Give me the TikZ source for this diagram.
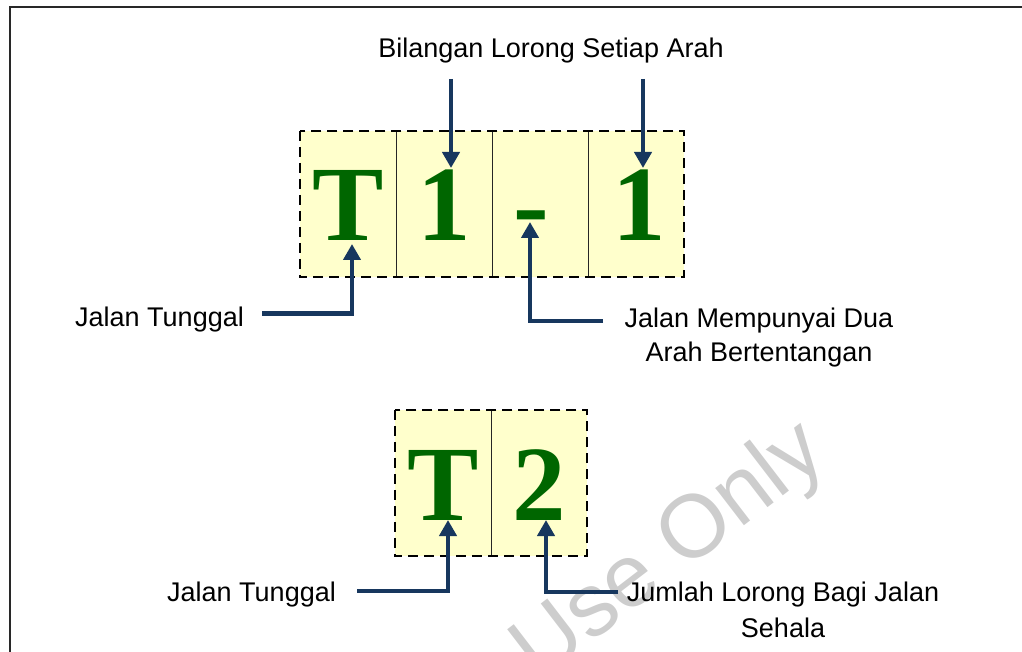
\documentclass[tikz,border=0pt]{standalone}
\usepackage{fontspec}
\setmainfont{Liberation Sans}
\newfontfamily\bigserif{Liberation Serif}
\usetikzlibrary{arrows.meta}
\definecolor{cellfill}{RGB}{255,255,204}
\definecolor{glyphgreen}{RGB}{0,102,0}
\definecolor{navyline}{RGB}{23,55,94}
\definecolor{wmgray}{RGB}{205,205,205}
\definecolor{framegray}{RGB}{40,40,40}
\begin{document}
\begin{tikzpicture}[x=1pt,y=-1pt,
  cell/.style={fill=cellfill, minimum width=96pt, minimum height=146pt, inner sep=0pt,
    font=\bigserif\bfseries\fontsize{107}{107}\selectfont, text=glyphgreen,
    text height=74pt, text depth=0pt},
  dashframe/.style={draw=black, line width=2.5pt, dash pattern=on 10pt off 6pt},
  divider/.style={draw=black!85, line width=1pt},
  arr/.style={draw=navyline, line width=4.5pt, -{Triangle[width=17pt,length=16pt]}},
  lbl/.style={font=\fontsize{27}{32}\selectfont, inner sep=0pt, text=black},
  wm/.style={font=\fontsize{89}{89}\selectfont, text=wmgray, inner sep=0pt},
  frameline/.style={draw=framegray, line width=2.5pt}
]
\useasboundingbox (0,0) rectangle (1022,652);
\begin{scope}
\clip (0,0) rectangle (1022,652);
\node[wm, rotate=37.5, anchor=base west] (wmark) at (539,683) {Use Only};
\draw[frameline] (10,700) -- (10,7) -- (1040,7);
\end{scope}

% top row
\node[cell] (c1) at (348,204) {T};
\node[cell] (c2) at (444,204) {1};
\node[cell] (c3) at (540,204) {\hspace*{-18pt}-};
\node[cell] (c4) at (636,204) {\hspace*{6pt}1};
\draw[divider] (c1.north east) -- (c1.south east);
\draw[divider] (c2.north east) -- (c2.south east);
\draw[divider] (c3.north east) -- (c3.south east);
\draw[dashframe] (c1.north west) rectangle (c4.south east);

% bottom row
\node[cell] (d1) at (443,483) {T};
\node[cell] (d2) at (539,483) {2};
\draw[divider] (d1.north east) -- (d1.south east);
\draw[dashframe] (d1.north west) rectangle (d2.south east);

% labels
\node[lbl, anchor=base] (title) at (551,58) {Bilangan Lorong Setiap Arah};
\node[lbl, anchor=base west] (jt1) at (75,326.5) {Jalan Tunggal};
\node[lbl, anchor=base] (jm1) at (759,327.5) {Jalan Mempunyai Dua};
\node[lbl, anchor=base] (jm2) at (759,361) {Arah Bertentangan};
\node[lbl, anchor=base west] (jt2) at (167,601.5) {Jalan Tunggal};
\node[lbl, anchor=base] (jl1) at (783,601) {Jumlah Lorong Bagi Jalan};
\node[lbl, anchor=base] (jl2) at (783,637) {Sehala};

% connectors
\coordinate (a1s) at (451,79);
\coordinate (a1e) at (451,168);
\coordinate (a2s) at (643,79);
\coordinate (a2e) at (643,168);
\draw[arr] (a1s) -- (a1e);
\draw[arr] (a2s) -- (a2e);

\coordinate (p1s) at (262,313.5);
\coordinate (p1e) at (352,244);
\draw[arr] (p1s) -| (p1e);

\coordinate (p2s) at (603,321);
\coordinate (p2e) at (530,222);
\draw[arr] (p2s) -| (p2e);

\coordinate (p3s) at (357,591);
\coordinate (p3e) at (448,520);
\draw[arr] (p3s) -| (p3e);

\coordinate (p4s) at (618,592);
\coordinate (p4e) at (546,520);
\draw[arr] (p4s) -| (p4e);
\end{tikzpicture}
\end{document}
